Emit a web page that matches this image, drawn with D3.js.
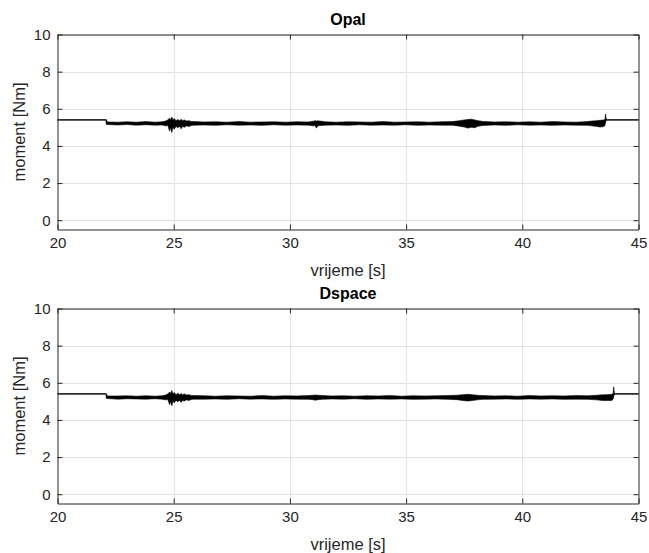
<!DOCTYPE html>
<html>
<head>
<meta charset="utf-8">
<script src="https://cdn.jsdelivr.net/npm/d3@7"></script>
<style>
  html, body { margin: 0; padding: 0; background: #fff; }
  svg { display: block; font-family: "Liberation Sans", Arial, Helvetica, sans-serif; }
</style>
</head>
<body>
<svg id="chart" width="649" height="553"></svg>
<script>
// ---- Data ----
const titles = ["Opal", "Dspace"];
const xTicks = [20, 25, 30, 35, 40, 45];
const yTicks = [0, 2, 4, 6, 8, 10];
const xLabel = "vrijeme [s]";
const yLabel = "moment [Nm]";

// Envelope of the noisy torque signal: time [s], lower bound, upper bound [Nm]
const opalTime = [20.00, 22.08, 22.10, 22.15, 22.6, 23.0, 23.4, 23.8, 24.2, 24.5, 24.65, 24.75, 24.82, 24.86, 24.92, 24.97, 25.02, 25.10, 25.18, 25.26, 25.32, 25.38, 25.46, 25.55, 25.65, 25.75, 25.85, 26.3, 26.8, 27.3, 27.8, 28.3, 28.8, 29.3, 29.8, 30.3, 30.8, 31.0, 31.08, 31.14, 31.2, 31.35, 31.5, 32.0, 32.5, 33.0, 33.5, 34.0, 34.5, 35.0, 35.5, 36.0, 36.5, 37.0, 37.3, 37.5, 37.65, 37.8, 37.95, 38.1, 38.3, 38.8, 39.3, 39.8, 40.3, 40.8, 41.3, 41.8, 42.3, 42.8, 43.0, 43.2, 43.35, 43.5, 43.56, 43.58, 43.61, 43.65, 45.00];
const opalLow  = [5.38, 5.38, 5.16, 5.15, 5.13, 5.15, 5.12, 5.14, 5.12, 5.13, 5.08, 5.10, 4.80, 5.00, 4.72, 5.02, 4.90, 5.05, 4.98, 5.06, 4.92, 5.05, 5.00, 5.08, 5.04, 5.10, 5.12, 5.13, 5.11, 5.14, 5.12, 5.13, 5.11, 5.14, 5.12, 5.13, 5.12, 5.08, 5.10, 4.96, 5.08, 5.10, 5.12, 5.13, 5.11, 5.14, 5.12, 5.13, 5.12, 5.14, 5.11, 5.13, 5.12, 5.12, 5.06, 5.02, 4.96, 5.00, 4.98, 5.06, 5.10, 5.13, 5.11, 5.14, 5.12, 5.13, 5.11, 5.13, 5.12, 5.11, 5.08, 5.05, 5.02, 5.04, 5.10, 5.25, 5.36, 5.38, 5.38];
const opalHigh = [5.42, 5.42, 5.42, 5.29, 5.28, 5.30, 5.28, 5.31, 5.28, 5.30, 5.34, 5.40, 5.50, 5.40, 5.56, 5.38, 5.48, 5.36, 5.42, 5.35, 5.44, 5.36, 5.40, 5.34, 5.36, 5.32, 5.31, 5.29, 5.30, 5.28, 5.31, 5.28, 5.29, 5.30, 5.28, 5.30, 5.29, 5.33, 5.36, 5.34, 5.35, 5.33, 5.30, 5.28, 5.30, 5.29, 5.28, 5.31, 5.28, 5.29, 5.30, 5.28, 5.30, 5.31, 5.36, 5.40, 5.42, 5.44, 5.40, 5.36, 5.32, 5.29, 5.30, 5.28, 5.30, 5.28, 5.31, 5.29, 5.28, 5.31, 5.34, 5.36, 5.38, 5.40, 5.42, 5.72, 5.46, 5.42, 5.42];

const dspaceTime = [20.00, 22.08, 22.10, 22.15, 22.6, 23.0, 23.4, 23.8, 24.2, 24.5, 24.65, 24.75, 24.82, 24.86, 24.92, 24.97, 25.02, 25.10, 25.18, 25.26, 25.32, 25.38, 25.46, 25.55, 25.65, 25.75, 25.85, 26.3, 26.8, 27.3, 27.8, 28.3, 28.8, 29.3, 29.8, 30.3, 30.8, 31.0, 31.1, 31.2, 31.4, 31.8, 32.3, 32.8, 33.3, 33.8, 34.3, 34.8, 35.3, 35.8, 36.3, 36.8, 37.2, 37.45, 37.65, 37.85, 38.05, 38.3, 38.8, 39.3, 39.8, 40.3, 40.8, 41.3, 41.8, 42.3, 42.8, 43.2, 43.45, 43.65, 43.85, 43.91, 43.93, 43.96, 44.0, 45.00];
const dspaceLow  = [5.38, 5.38, 5.16, 5.15, 5.12, 5.14, 5.13, 5.12, 5.14, 5.12, 5.08, 5.10, 4.82, 5.00, 4.76, 5.02, 4.92, 5.05, 4.98, 5.06, 4.94, 5.05, 5.02, 5.08, 5.05, 5.10, 5.12, 5.12, 5.13, 5.11, 5.14, 5.12, 5.13, 5.11, 5.13, 5.12, 5.11, 5.09, 5.06, 5.09, 5.11, 5.13, 5.12, 5.14, 5.11, 5.13, 5.12, 5.13, 5.11, 5.12, 5.13, 5.11, 5.09, 5.04, 5.02, 5.04, 5.08, 5.11, 5.12, 5.13, 5.11, 5.13, 5.12, 5.13, 5.11, 5.12, 5.11, 5.08, 5.05, 5.04, 5.05, 5.12, 5.25, 5.36, 5.38, 5.38];
const dspaceHigh = [5.42, 5.42, 5.42, 5.29, 5.29, 5.30, 5.28, 5.30, 5.28, 5.30, 5.34, 5.40, 5.50, 5.42, 5.58, 5.38, 5.48, 5.36, 5.44, 5.35, 5.42, 5.36, 5.40, 5.34, 5.36, 5.32, 5.31, 5.30, 5.28, 5.30, 5.29, 5.28, 5.31, 5.28, 5.30, 5.29, 5.31, 5.33, 5.34, 5.33, 5.31, 5.29, 5.30, 5.28, 5.30, 5.29, 5.31, 5.28, 5.30, 5.29, 5.30, 5.31, 5.33, 5.36, 5.38, 5.36, 5.33, 5.31, 5.29, 5.30, 5.28, 5.31, 5.29, 5.30, 5.29, 5.31, 5.30, 5.33, 5.35, 5.36, 5.38, 5.42, 5.78, 5.46, 5.42, 5.42];

const seriesList = [
  { title: titles[0], time: opalTime, low: opalLow, high: opalHigh },
  { title: titles[1], time: dspaceTime, low: dspaceLow, high: dspaceHigh }
];

// ---- Layout ----
const svg = d3.select("#chart");
const left = 57.5, right = 638.5;
const panels = [ { top: 34.5, bottom: 229.5 }, { top: 308.5, bottom: 503.5 } ];
const axisColor = "#262626";
const gridColor = "#e3e3e3";

seriesList.forEach((s, i) => {
  const p = panels[i];
  const x = d3.scaleLinear().domain([20, 45]).range([left, right]);
  const y = d3.scaleLinear().domain([-0.5, 10]).range([p.bottom, p.top]);
  const g = svg.append("g");

  // grid
  g.append("g").selectAll("line").data(xTicks.slice(1, -1)).join("line")
    .attr("x1", d => Math.round(x(d)) + 0.5).attr("x2", d => Math.round(x(d)) + 0.5)
    .attr("y1", p.top).attr("y2", p.bottom)
    .attr("stroke", gridColor).attr("stroke-width", 1);
  g.append("g").selectAll("line").data(yTicks).join("line")
    .attr("x1", left).attr("x2", right)
    .attr("y1", d => Math.round(y(d)) + 0.5).attr("y2", d => Math.round(y(d)) + 0.5)
    .attr("stroke", gridColor).attr("stroke-width", 1);

  // signal envelope
  const pts = s.time.map((t, k) => ({ t, lo: s.low[k], hi: s.high[k] }));
  g.append("path").datum(pts)
    .attr("d", d3.area().x(d => x(d.t)).y0(d => y(d.lo)).y1(d => y(d.hi)))
    .attr("fill", "#000").attr("stroke", "#000").attr("stroke-width", 0.6)
    .attr("stroke-linejoin", "miter");

  // axes (MATLAB-like box with inward ticks)
  const axB = d3.axisBottom(x).tickValues(xTicks).tickSizeInner(-5).tickSizeOuter(0).tickPadding(8);
  const axT = d3.axisTop(x).tickValues(xTicks).tickSizeInner(-5).tickSizeOuter(0).tickFormat("");
  const axL = d3.axisLeft(y).tickValues(yTicks).tickSizeInner(-5).tickSizeOuter(0).tickPadding(7);
  const axR = d3.axisRight(y).tickValues(yTicks).tickSizeInner(-5).tickSizeOuter(0).tickFormat("");

  const styleAxis = sel => {
    sel.selectAll("path.domain").attr("stroke", axisColor);
    sel.selectAll("line").attr("stroke", axisColor);
    sel.selectAll("text").attr("fill", axisColor).style("font-size", "15px")
      .style("font-family", "'Liberation Sans', Arial, sans-serif");
  };
  g.append("g").attr("transform", `translate(0,${p.bottom})`).call(axB).call(styleAxis);
  g.append("g").attr("transform", `translate(0,${p.top})`).call(axT).call(styleAxis);
  g.append("g").attr("transform", `translate(${left},0)`).call(axL).call(styleAxis);
  g.append("g").attr("transform", `translate(${right},0)`).call(axR).call(styleAxis);

  // title
  g.append("text").attr("x", (left + right) / 2).attr("y", p.top - 10)
    .attr("text-anchor", "middle").attr("font-weight", "bold").attr("font-size", "16px")
    .attr("fill", "#000").text(s.title);
  // x label
  g.append("text").attr("x", (left + right) / 2).attr("y", p.bottom + 46)
    .attr("text-anchor", "middle").attr("font-size", "16.5px").attr("fill", axisColor).text(xLabel);
  // y label
  g.append("text").attr("transform", `translate(25,${(p.top + p.bottom) / 2}) rotate(-90)`)
    .attr("text-anchor", "middle").attr("font-size", "16.5px").attr("fill", axisColor).text(yLabel);
});
</script>
</body>
</html>
